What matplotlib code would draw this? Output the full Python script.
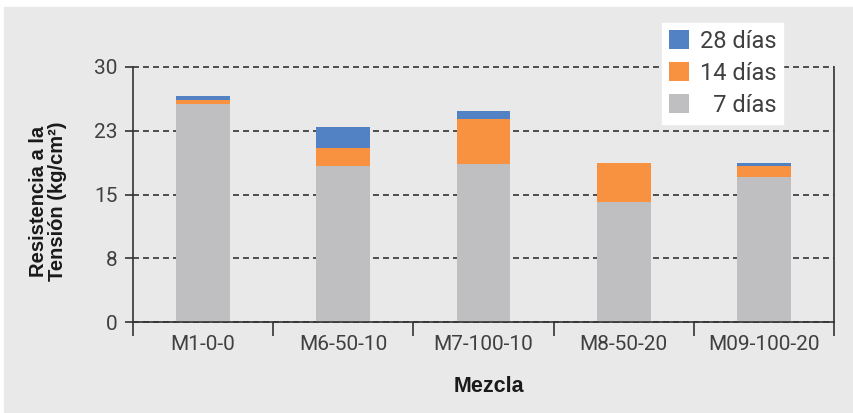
import numpy as np
import matplotlib
matplotlib.use("Agg")
import matplotlib.pyplot as plt
from matplotlib.patches import Rectangle
from matplotlib.ticker import FixedLocator, NullFormatter

# resistencia a la tension por mezcla (kg/cm2), aporte por edad
mezclas = ["M1-0-0", "M6-50-10", "M7-100-10", "M8-50-20", "M09-100-20"]
dias_7 = [25.6, 18.35, 18.6, 14.1, 17.05]
dias_14 = [0.5, 2.15, 5.3, 4.6, 1.3]
dias_28 = [0.5, 2.4, 0.9, 0.0, 0.35]
y_ticks = [0, 7.5, 15, 22.5, 30]
y_labels = ["0", "8", "15", "23", "30"]

plt.rcParams["font.family"] = ["Roboto", "DejaVu Sans"]
plt.rcParams["lines.scale_dashes"] = False

gris_fondo = "#e9e9e9"
texto = "#404040"

fig = plt.figure(figsize=(8.54, 4.13), dpi=100, facecolor="white")
fondo = Rectangle((4 / 854, 1 / 413), 1, (413 - 8) / 413,
                  transform=fig.transFigure, color=gris_fondo, zorder=-5)
fig.add_artist(fondo)

ax = fig.add_axes([133 / 854, 1 - 322 / 413, (834 - 133) / 854, (322 - 67) / 413])
ax.set_facecolor("none")
ax.set_zorder(1)

x = np.arange(len(mezclas))
w = 0.385
b7 = ax.bar(x, dias_7, w, color="#bfbfc1", label="\u20077 días", zorder=2)
b14 = ax.bar(x, dias_14, w, bottom=dias_7, color="#f99240", label="14 días", zorder=2)
base28 = np.array(dias_7) + np.array(dias_14)
b28 = ax.bar(x, dias_28, w, bottom=base28, color="#5282c3", label="28 días", zorder=2)

ax.set_xlim(-0.5, len(mezclas) - 0.5)
ax.set_ylim(0, 30)
ax.set_yticks(y_ticks)
ax.set_yticklabels(y_labels)
ax.set_xticks(x)
ax.set_xticklabels(mezclas)
ax.xaxis.set_minor_locator(FixedLocator(np.arange(len(mezclas) + 1) - 0.5))
ax.xaxis.set_minor_formatter(NullFormatter())

ax.tick_params(axis="x", which="major", length=0, pad=9, labelsize=15, labelcolor=texto)
ax.tick_params(axis="x", which="minor", length=10, width=1.2, color="#333333", direction="out")
ax.tick_params(axis="y", length=6, width=1.2, color="#333333", pad=5, labelsize=15,
               labelcolor=texto)

ax.grid(axis="y", color="#333333", linestyle=(0, (4.3, 2.9)), linewidth=1.2, zorder=1)
ax.set_axisbelow(True)
for gl in ax.get_ygridlines():
    gl.set_clip_on(False)

ax.spines["top"].set_visible(False)
for s in ["left", "bottom", "right"]:
    ax.spines[s].set_color("#333333")
    ax.spines[s].set_linewidth(1.2)

fig.text(48 / 854, 1 - 201 / 413, "Resistencia a la\nTensión (kg/cm²)", rotation=90,
         ha="center", va="center", ma="center", fontsize=14.5, fontweight="bold",
         family="Liberation Sans", color="#1a1a1a", linespacing=1.0)
fig.text(489 / 854, 1 - 386 / 413, "Mezcla", ha="center", va="center", fontsize=15.5,
         fontweight="bold", family="Liberation Sans", color="#1a1a1a")

leg = fig.legend(handles=[b28, b14, b7], loc="upper left",
                 bbox_to_anchor=(662 / 854, 1 - 23 / 413), fontsize=17,
                 frameon=True, fancybox=False, framealpha=1, edgecolor="white",
                 facecolor="white", handlelength=0.85, handleheight=0.85,
                 handletextpad=0.45, labelspacing=0.38, borderpad=0.3,
                 borderaxespad=0)
leg.set_zorder(5)
for t in leg.get_texts():
    t.set_color(texto)

fig.savefig("out.png", dpi=100, facecolor="white")
